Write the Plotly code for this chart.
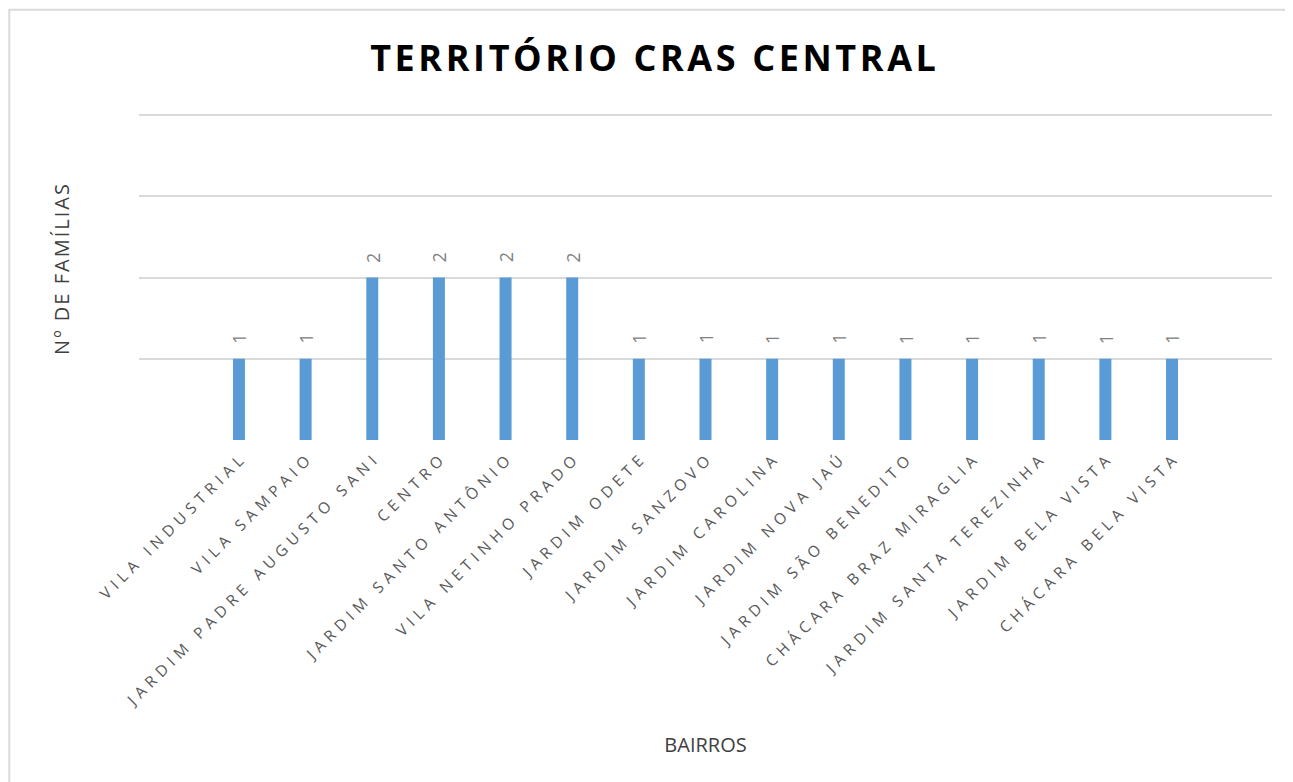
import plotly.graph_objects as go

bairros = ['VILA INDUSTRIAL', 'VILA SAMPAIO', 'JARDIM PADRE AUGUSTO SANI', 'CENTRO',
           'JARDIM SANTO ANTÔNIO', 'VILA NETINHO PRADO', 'JARDIM ODETE',
           'JARDIM SANZOVO', 'JARDIM CAROLINA', 'JARDIM NOVA JAÚ',
           'JARDIM SÃO BENEDITO', 'CHÁCARA BRAZ MIRAGLIA', 'JARDIM SANTA TEREZINHA',
           'JARDIM BELA VISTA', 'CHÁCARA BELA VISTA']
familias = [1, 1, 2, 2, 2, 2, 1, 1, 1, 1, 1, 1, 1, 1, 1]
y_ticks = [0, 1, 2, 3, 4]


def spaced(s, sep='\u2009'):
    # fake the letter spacing of the original chart
    return sep.join(s)


xs = list(range(len(bairros)))

fig = go.Figure()
fig.add_trace(go.Bar(x=xs, y=familias, width=0.18,
                     marker=dict(color='#5B9BD5', line=dict(width=0))))

# value labels, rotated like the original
for x, v in zip(xs, familias):
    fig.add_annotation(x=x, y=v, text=str(v), showarrow=False, textangle=-90,
                       yanchor='bottom', yshift=13,
                       font=dict(family='Open Sans', size=18, color='#808080'))

# page body has an 8px margin, so the figure is a bit smaller and shifted
fig.update_layout(
    width=1285, height=774,
    margin=dict(l=131, r=21, t=91, b=342, autoexpand=False),
    paper_bgcolor='white', plot_bgcolor='white',
    showlegend=False,
    title=dict(text='<b>' + spaced('TERRITÓRIO CRAS CENTRAL', '\u200a') + '</b>',
               x=0.502, xref='container', xanchor='center',
               y=0.935, yref='container', yanchor='middle',
               font=dict(family='Open Sans', size=36, color='#000000')),
    xaxis=dict(range=[-1.5, 15.5], tickmode='array', tickvals=xs,
               ticktext=[spaced(b, '\u2004') for b in bairros], tickangle=-45,
               tickfont=dict(family='Open Sans', size=15.5, color='#595959'),
               ticklabelstandoff=8,
               showgrid=False, zeroline=False, showline=False, ticks='',
               automargin=False,
               title=dict(text='BAIRROS', standoff=28,
                          font=dict(family='Open Sans', size=20, color='#404040'))),
    yaxis=dict(range=[0, 4.2], tickvals=y_ticks, showticklabels=False,
               showgrid=True, gridcolor='#D9D9D9', gridwidth=1.5,
               zeroline=False, showline=False, ticks='', automargin=False,
               title=dict(text=spaced('Nº DE FAMÍLIAS', '\u200a'), standoff=63,
                          font=dict(family='Open Sans', size=20, color='#404040'))),
)

# outer chart border
fig.add_shape(type='rect', xref='paper', yref='paper',
              x0=-0.1145, x1=1.2, y0=-1.2, y1=1.262,
              line=dict(color='#D9D9D9', width=2), fillcolor='rgba(0,0,0,0)')

fig.write_html("out.html")
